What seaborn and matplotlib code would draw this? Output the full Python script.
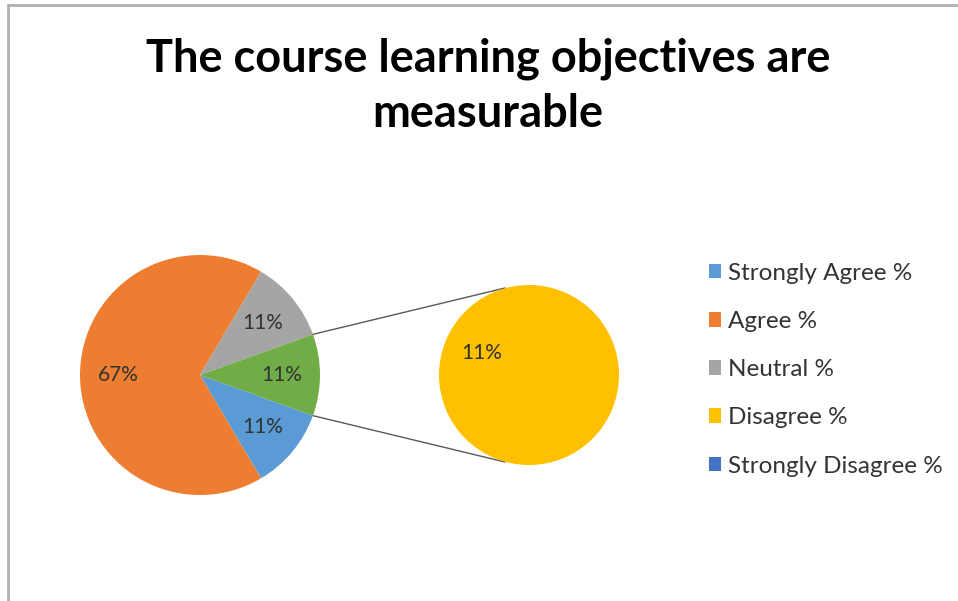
import matplotlib
matplotlib.use("Agg")
import matplotlib.pyplot as plt
from matplotlib.patches import Patch
import numpy as np
import seaborn as sns

# Survey responses (percent of respondents)
categories = ["Strongly Agree %", "Agree %", "Neutral %", "Disagree %", "Strongly Disagree %"]
values = [11, 67, 11, 11, 0]
title_lines = ["The course learning objectives are", "measurable"]

# Office-style palette
colors = ["#5B9BD5", "#ED7D31", "#A5A5A5", "#FFC000", "#4472C4"]
other_color = "#70AD47"

sns.set_theme(style="white")
plt.rcParams["font.family"] = ["Lato", "DejaVu Sans"]

fig = plt.figure(figsize=(9.58, 6.01), dpi=100)
ax = fig.add_axes([0, 0, 1, 1])

# Primary pie: first three categories plus the combined "other" slice
n_main = 3
main_vals = values[:n_main] + [sum(values[n_main:])]
main_cols = colors[:n_main] + [other_color]
sec_vals = values[n_main:]
sec_cols = colors[n_main:]


def value_label(series):
    """autopct callback that prints the slice's own value, not its share."""
    total = sum(series)

    def fmt(pct):
        v = pct * total / 100.0
        return "" if v < 0.5 else f"{v:.0f}%"
    return fmt


label_color = "#333333"
main_wedges, _, main_texts = ax.pie(
    main_vals, colors=main_cols, center=(200, 226), radius=120,
    startangle=-19.8, counterclock=False, frame=True,
    autopct=value_label(main_vals), pctdistance=0.68,
    wedgeprops=dict(linewidth=0),
    textprops=dict(fontsize=15, color=label_color),
)

sec_wedges, _, sec_texts = ax.pie(
    sec_vals, colors=sec_cols, center=(529, 226), radius=90,
    startangle=335, counterclock=False, frame=True,
    autopct=value_label(sec_vals), pctdistance=0.58,
    wedgeprops=dict(linewidth=0),
    textprops=dict(fontsize=15, color=label_color),
)

# Connector lines from the "other" slice edges to the secondary pie
ow = main_wedges[-1]
cx, cy = ow.center
r = ow.r
sx, sy = sec_wedges[0].center
sr = sec_wedges[0].r
for ang, ty in ((ow.theta2, sy + sr - 3), (ow.theta1, sy - sr + 3)):
    a = np.deg2rad(ang)
    x0, y0 = cx + r * np.cos(a), cy + r * np.sin(a)
    ax.plot([x0, sx - 24], [y0, ty], color="#595959", linewidth=1.0, zorder=0)

# Title
ax.text(488, 601 - 72, title_lines[0], ha="center", va="baseline",
        fontsize=32.5, fontweight="bold", color="black")
ax.text(488, 601 - 127, title_lines[1], ha="center", va="baseline",
        fontsize=32.5, fontweight="bold", color="black")

# Legend
handles = [Patch(facecolor=c, edgecolor="none") for c in colors]
leg = fig.legend(
    handles, categories, loc="upper left", bbox_to_anchor=(699 / 958, 1 - 253 / 601),
    frameon=False, fontsize=17.5, handlelength=0.5, handleheight=0.55,
    handletextpad=0.3, labelspacing=1.12, borderaxespad=0,
)
for t in leg.get_texts():
    t.set_color("#333333")

# Chart border
ax.plot([8, 958], [596, 596], color="#b0b0b0", linewidth=2)
ax.plot([8, 8], [0, 596], color="#b0b0b0", linewidth=2)

ax.set_xlim(0, 958)
ax.set_ylim(0, 601)
ax.set_aspect("equal")
ax.axis("off")

fig.savefig("out.png", dpi=100, facecolor="white")
